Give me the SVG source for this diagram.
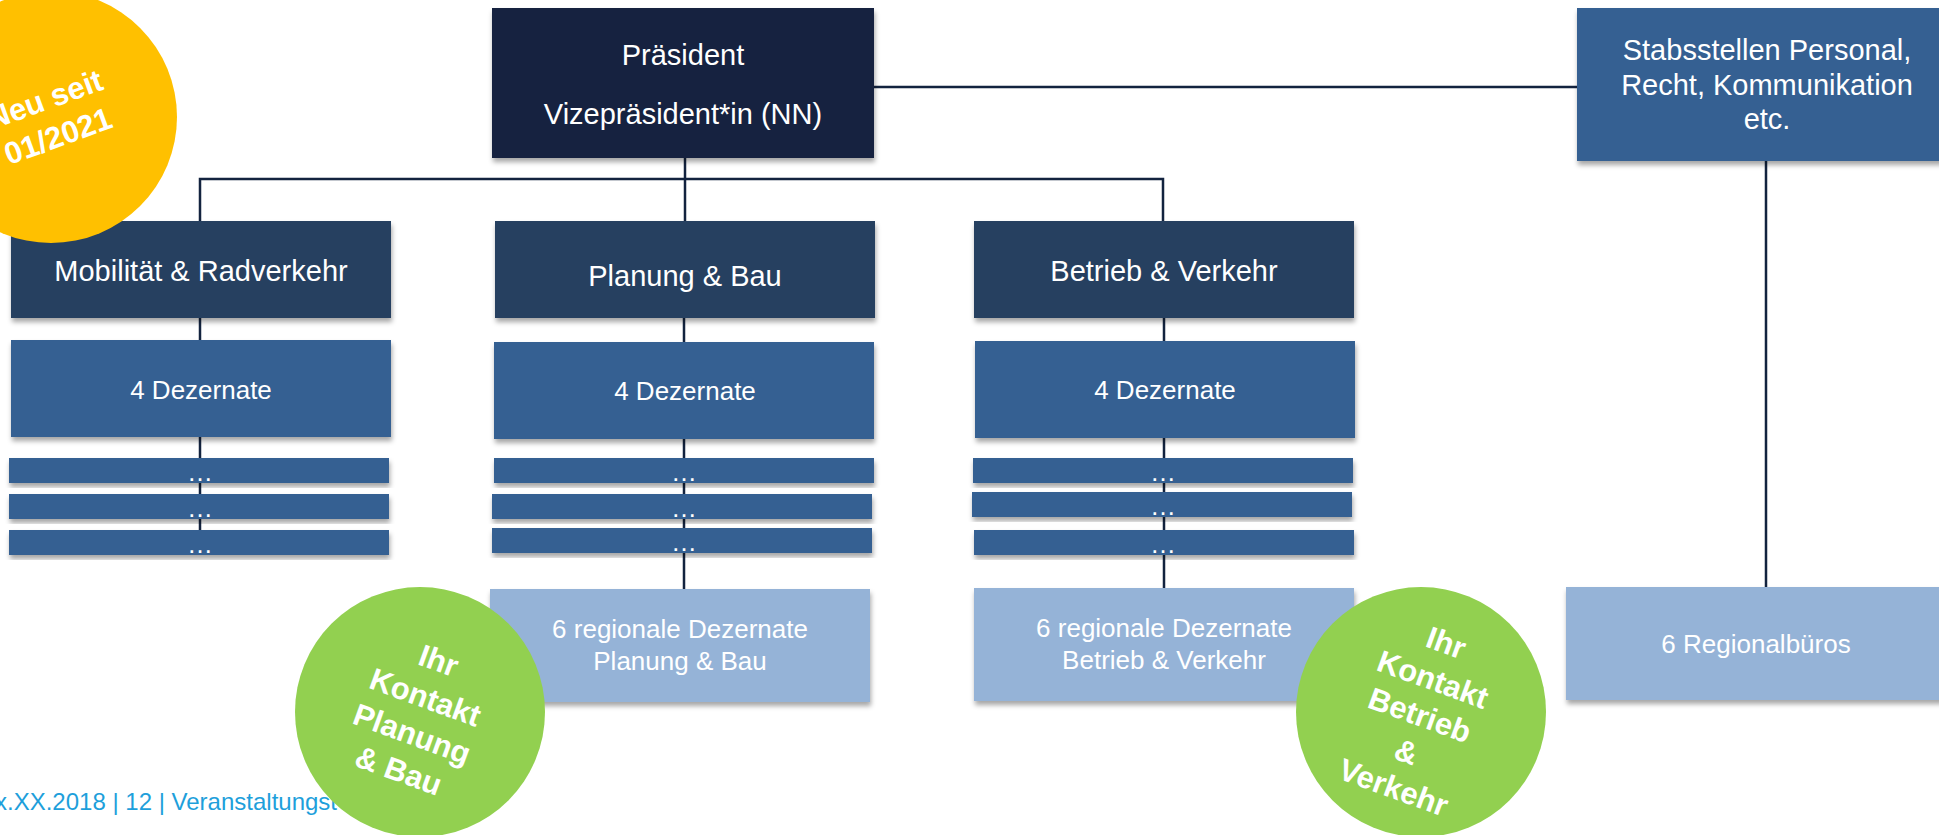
<svg xmlns="http://www.w3.org/2000/svg" width="1939" height="835" viewBox="0 0 1939 835">
<defs>
<filter id="sh" x="-5%" y="-10%" width="110%" height="130%">
<feDropShadow dx="1" dy="4" stdDeviation="2.5" flood-color="#000" flood-opacity="0.35"/>
</filter>
<style>
.t{font-family:"Liberation Sans",Arial,sans-serif;fill:#fff;text-anchor:middle}
.big{font-size:29px}
.mid{font-size:26px}
.bold{font-size:31px;font-weight:bold}
.pres{fill:#13243f}
.l2{fill:#263f61}
.dz{fill:#366092}
.rg{fill:#95b3d7}
.box{filter:url(#sh)}
.con{fill:none;stroke:#13233f;stroke-width:2.5}
</style>
</defs>
<rect width="1939" height="835" fill="#fff"/>

<g id="connectors">
<path class="con" d="M874 87H1577"/>
<path class="con" d="M685 158V221"/>
<path class="con" d="M200 221V179H1163V221"/>
<path class="con" d="M200 318V555"/>
<path class="con" d="M684 318V589"/>
<path class="con" d="M1164 318V588"/>
<path class="con" d="M1766 161V587"/>
</g>

<g id="praesident"><rect class="pres box" x="492" y="8" width="382" height="150"/>
<text class="t big" x="683" y="65">Präsident</text>
<text class="t big" x="683" y="124">Vizepräsident*in (NN)</text></g>

<g id="stabsstellen"><rect class="dz box" x="1577" y="8" width="380" height="153"/>
<text class="t big" x="1767" y="60">Stabsstellen Personal,</text>
<text class="t big" x="1767" y="95">Recht, Kommunikation</text>
<text class="t big" x="1767" y="129">etc.</text></g>

<g id="mobilitaet"><rect class="l2 box" x="11" y="221" width="380" height="97"/>
<text class="t big" x="201" y="281">Mobilität &amp; Radverkehr</text></g>
<g id="planung"><rect class="l2 box" x="495" y="221" width="380" height="97"/>
<text class="t big" x="685" y="286">Planung &amp; Bau</text></g>
<g id="betrieb"><rect class="l2 box" x="974" y="221" width="380" height="97"/>
<text class="t big" x="1164" y="281">Betrieb &amp; Verkehr</text></g>

<g id="mob-dezernate"><rect class="dz box" x="11" y="340" width="380" height="97"/>
<text class="t mid" x="201" y="399">4 Dezernate</text></g>
<g id="plan-dezernate"><rect class="dz box" x="494" y="342" width="380" height="97"/>
<text class="t mid" x="685" y="400">4 Dezernate</text></g>
<g id="betr-dezernate"><rect class="dz box" x="975" y="341" width="380" height="97"/>
<text class="t mid" x="1165" y="399">4 Dezernate</text></g>

<g id="mob-bar1"><rect class="dz box" x="9" y="458" width="380" height="25"/><text class="t mid" x="200" y="481">…</text></g>
<g id="mob-bar2"><rect class="dz box" x="9" y="494" width="380" height="25"/><text class="t mid" x="200" y="517">…</text></g>
<g id="mob-bar3"><rect class="dz box" x="9" y="530" width="380" height="25"/><text class="t mid" x="200" y="553">…</text></g>

<g id="plan-bar1"><rect class="dz box" x="494" y="458" width="380" height="25"/><text class="t mid" x="684" y="481">…</text></g>
<g id="plan-bar2"><rect class="dz box" x="492" y="494" width="380" height="25"/><text class="t mid" x="684" y="517">…</text></g>
<g id="plan-bar3"><rect class="dz box" x="492" y="528" width="380" height="25"/><text class="t mid" x="684" y="551">…</text></g>

<g id="betr-bar1"><rect class="dz box" x="973" y="458" width="380" height="25"/><text class="t mid" x="1163" y="481">…</text></g>
<g id="betr-bar2"><rect class="dz box" x="972" y="492" width="380" height="25"/><text class="t mid" x="1163" y="515">…</text></g>
<g id="betr-bar3"><rect class="dz box" x="974" y="530" width="380" height="25"/><text class="t mid" x="1163" y="553">…</text></g>

<g id="plan-regional"><rect class="rg box" x="490" y="589" width="380" height="113"/>
<text class="t mid" x="680" y="638">6 regionale Dezernate</text>
<text class="t mid" x="680" y="670">Planung &amp; Bau</text></g>
<g id="betr-regional"><rect class="rg box" x="974" y="588" width="380" height="113"/>
<text class="t mid" x="1164" y="637">6 regionale Dezernate</text>
<text class="t mid" x="1164" y="669">Betrieb &amp; Verkehr</text></g>
<g id="regionalbueros"><rect class="rg box" x="1566" y="587" width="380" height="113"/>
<text class="t mid" x="1756" y="653">6 Regionalbüros</text></g>

<g id="footer"><text x="-5" y="810" style="font-family:'Liberation Sans',Arial,sans-serif;font-size:24px;fill:#1e9fdb">x.XX.2018 | 12 | Veranstaltungst</text></g>

<g id="badge-neu"><circle cx="51" cy="117" r="126" fill="#ffc000"/>
<g transform="translate(51,117) rotate(-20)">
<text class="t bold" x="0" y="-8">Neu seit</text>
<text class="t bold" x="0" y="31">01/2021</text></g></g>

<g id="badge-planung"><circle cx="420" cy="712" r="125" fill="#92d050"/>
<g transform="translate(420,712) rotate(20)">
<text class="t bold" x="0" y="-44">Ihr</text>
<text class="t bold" x="0" y="-5">Kontakt</text>
<text class="t bold" x="0" y="34">Planung</text>
<text class="t bold" x="0" y="73">&amp; Bau</text></g></g>

<g id="badge-betrieb"><circle cx="1421" cy="712" r="125" fill="#92d050"/>
<g transform="translate(1421,712) rotate(20)">
<text class="t bold" x="0" y="-63">Ihr</text>
<text class="t bold" x="0" y="-24">Kontakt</text>
<text class="t bold" x="0" y="14">Betrieb</text>
<text class="t bold" x="0" y="53">&amp;</text>
<text class="t bold" x="0" y="91">Verkehr</text></g></g>
</svg>
